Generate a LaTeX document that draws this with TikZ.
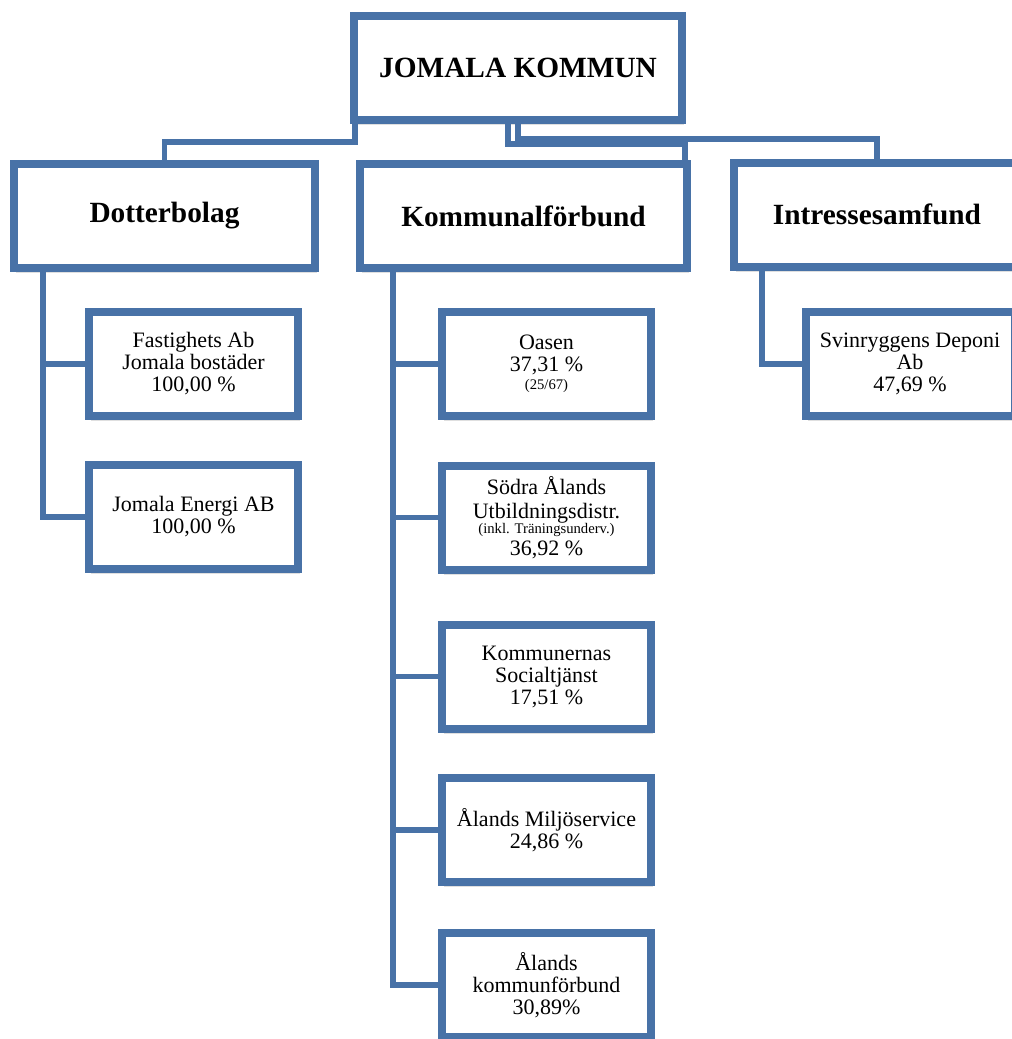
\documentclass[tikz,border=0pt]{standalone}
\usepackage{fontspec}
\setmainfont{Liberation Serif}
\usetikzlibrary{calc,shadows}

\definecolor{azul}{RGB}{72,114,167}
\newcommand{\chico}{\fontsize{11}{12}\selectfont}

\tikzset{
  caja/.style={draw=azul, line width=6pt, fill=white, align=center, inner sep=0pt,
    minimum height=78pt, drop shadow={shadow xshift=1.5pt, shadow yshift=-4pt, opacity=0.25}},
  cabeza/.style={caja, font=\fontsize{22}{26}\selectfont\bfseries},
  hoja/.style={caja, minimum width=156.75pt, font=\fontsize{16.5}{16.5}\selectfont},
  linea/.style={draw=azul, line width=3.9pt},
}

\begin{document}
\begin{tikzpicture}[x=0.75pt, y=-0.75pt]
    % Marco de la imagen
    \useasboundingbox (0,0) rectangle (1012,1039);
    \clip (0,0) rectangle (1012,1039);

    % Caja principal y cabeceras
    \node[cabeza, minimum width=246pt] (root) at (518,68) {JOMALA KOMMUN};
    \node[cabeza, minimum width=225.75pt] (dot) at (164.5,216) {Dotterbolag};
    \node[cabeza, minimum width=245.25pt] (kom) at (523.5,216) {Kommunalförbund};
    \node[cabeza, minimum width=214.5pt] (int) at (877,214.5) {Intressesamfund};

    % Dotterbolag
    \node[hoja] (fast) at (193.5,364) {Fastighets Ab\\Jomala bostäder\\100,00 \%};
    \node[hoja] (energi) at (193.5,517) {Jomala Energi AB\\100,00 \%};

    % Kommunalförbund
    \node[hoja] (oasen) at (546.5,364) {Oasen\\37,31 \%\\[-3pt]{\chico (25/67)}};
    \node[hoja] (sodra) at (546.5,517.5) {Södra Ålands\\[1.5pt]Utbildningsdistr.\\[-5pt]{\chico (inkl. Träningsunderv.)}\\36,92 \%};
    \node[hoja] (social) at (546.5,676.5) {Kommunernas\\Socialtjänst\\17,51 \%};
    \node[hoja] (miljo) at (546.5,830) {Ålands Miljöservice\\24,86 \%};
    \node[hoja] (kf) at (546.5,985) {Ålands\\kommunförbund\\30,89\%};

    % Intressesamfund
    \node[hoja] (svin) at (910,364) {Svinryggens Deponi\\Ab\\47,69 \%};

    % Conexiones desde la caja principal
    \draw[linea] ($(root.south west)+(5,0)$) -- ++(0,18) -| (dot.north);
    \draw[linea] ($(root.south)+(-10,0)$) -- ++(0,20) -| ($(kom.north east)+(-6,0)$);
    \draw[linea] (root.south) -- ++(0,15) -| (int.north);

    % Troncos verticales
    \coordinate (dtronco) at ($(dot.south west)+(33,0)$);
    \coordinate (ktronco) at ($(kom.south west)+(37,0)$);
    \coordinate (itronco) at ($(int.south west)+(32,0)$);

    % Ramas hacia las cajas
    \draw[linea] (dtronco) |- (energi.west);
    \draw[linea] (fast.west) -| (dtronco);
    \draw[linea] (ktronco) |- (kf.west);
    \foreach \n in {oasen,sodra,social,miljo}
        \draw[linea] (\n.west) -| (ktronco);
    \draw[linea] (itronco) |- (svin.west);
\end{tikzpicture}
\end{document}
